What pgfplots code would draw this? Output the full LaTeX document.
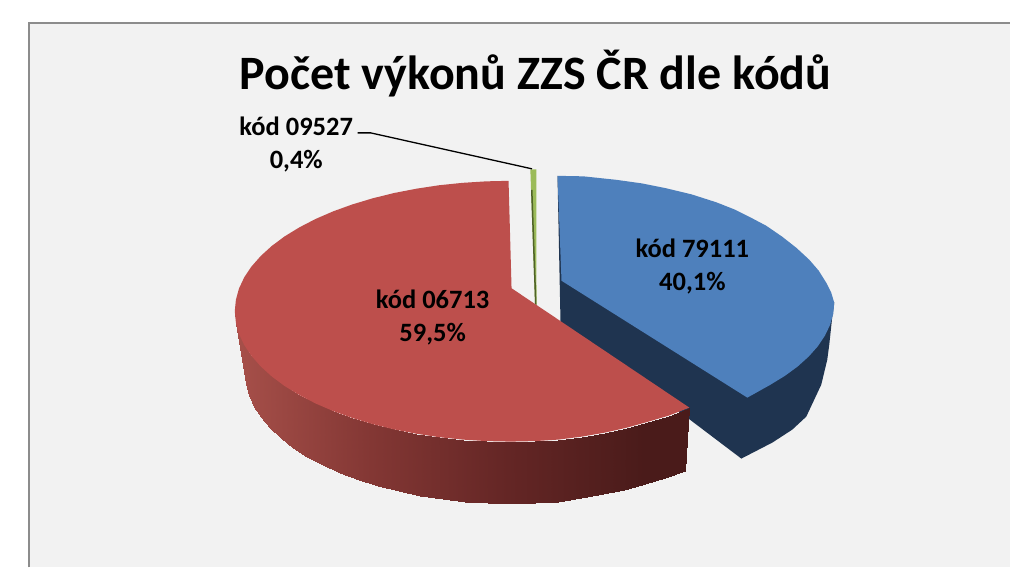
\documentclass[border=0pt]{standalone}
\usepackage{fontspec}
\setmainfont{Carlito}
\usepackage{pgfplots}
\pgfplotsset{compat=1.18}
\definecolor{panel}{HTML}{F2F2F2}
\definecolor{edge}{HTML}{8C8C8C}
\definecolor{redtop}{HTML}{BD4F4C}
\definecolor{bluetop}{HTML}{4E80BC}
\definecolor{blueside}{HTML}{1F3450}
\definecolor{greentop}{HTML}{9BBB59}
\definecolor{greenside}{HTML}{4F6228}

\begin{document}
\begin{tikzpicture}
\begin{axis}[
  width=1011pt, height=568pt,
  scale only axis,
  xmin=0, xmax=1011, ymin=0, ymax=568,
  y dir=reverse,
  hide axis,
  clip=false,
  colormap={redside}{rgb255(0cm)=(167,80,74); rgb255(3cm)=(131,55,52); rgb255(6cm)=(100,38,37); rgb255(9cm)=(74,27,26); rgb255(10cm)=(74,27,26)},
  point meta min=235, point meta max=690,
]
% page and panel
\addplot[fill=white, draw=none] coordinates {(0,0)(1011,0)(1011,568)(0,568)} -- cycle;
\addplot[fill=panel, draw=none] coordinates {(29,23)(1011,23)(1011,568)(29,568)} -- cycle;
\addplot[edge, line width=1.8pt] coordinates {(29,568)(29,23)(1011,23)};

% blue slice, 40,1 %
\addplot[fill=blueside, draw=none] coordinates {
  (558,176)(561,322)(742,459)(773,443)(793,430)(807,417)(822,385)(828,360)(830,345)(833,317)(835,303)
} -- cycle;
\addplot[fill=bluetop, draw=none] coordinates {
  (558,176)(584,176.5)(617,180)(642,183.5)(667,188.5)(692,194.5)(717,202.5)(736,210)
  (750,217)(767,226)(783,237)(797,248)(810,260)(819.5,271)(827,283)(832,293)(835,303)
  (834,314.2)(830.8,325.2)(825.6,336.1)(818.4,346.8)
  (809.2,357.1)(798.2,367)(785.3,376.4)(770.7,385.3)(748,398)(562,281)
} -- cycle;

% green slice, 0,4 %
\addplot[fill=greentop, draw=none] coordinates {(530.8,169.5)(536.8,169.5)(537,305)(535.5,305)} -- cycle;
\addplot[fill=greenside, draw=none] coordinates {(531.5,190)(533,190)(537,305)(535.5,305)} -- cycle;

% red slice, 59,5 %
\addplot[surf, shader=interp, mesh/rows=2, point meta=x, colormap name=redside] table {
x y
235 311.5
236.1 322.9
239.2 334.2
244.4 345.3
251.6 356.1
260.9 366.7
272 376.8
284.9 386.4
299.6 395.4
315.8 403.8
333.6 411.5
352.7 418.4
373 424.5
394.4 429.8
416.6 434.1
439.6 437.6
463.1 440
486.9 441.5
511 442
535.1 441.5
558.9 440
582.4 437
605.4 433
627.6 428
649 422
669.3 416
690 408
245 373
246 384.4
249.1 395.7
254.1 406.9
261.1 417.8
270 428.4
280.8 438.5
293.3 448.1
307.5 457.2
323.2 465.6
340.4 473.4
358.9 480.3
378.5 486.4
399.2 491.7
420.7 496.1
442.9 499.5
465.6 502
488.7 503.5
512 504
535.3 503.5
558.4 502
581.1 498.5
603.3 494.5
624.8 490
645.5 484.5
665.1 478.5
686 471
};
\addplot[fill=redtop, draw=none] coordinates {
  (509,181)(486.9,181.5)(463.1,183)(439.6,185.4)(416.6,188.9)(394.4,193.2)(373,198.5)(352.7,204.6)
  (333.6,211.5)(315.8,219.2)(299.6,227.6)(284.9,236.6)(272,246.2)(260.9,256.3)(251.6,266.9)
  (244.4,277.7)(239.2,288.8)(236.1,300.1)(235,311.5)(236.1,322.9)(239.2,334.2)(244.4,345.3)
  (251.6,356.1)(260.9,366.7)(272,376.8)(284.9,386.4)(299.6,395.4)(315.8,403.8)(333.6,411.5)
  (352.7,418.4)(373,424.5)(394.4,429.8)(416.6,434.1)(439.6,437.6)(463.1,440)(486.9,441.5)
  (511,442)(535.1,441.5)(558.9,440)(582.4,437)(605.4,433)(627.6,428)(649,422)(669.3,416)
  (690,408)(512,288.5)
} -- cycle;

% leader line
\addplot[black, line width=1.3pt] coordinates {(358,133)(371,133)(532.5,169)};

% texts
\node[font={\fontsize{48}{54}\selectfont\bfseries}, inner sep=0pt] at (axis cs:536,74) {Počet výkonů ZZS ČR dle kódů};
\tikzset{lab/.style={font={\fontsize{26.5}{33}\selectfont\bfseries}, align=center, inner sep=0pt}}
\node[lab] at (axis cs:296.5,145) {kód 09527\\0,4\%};
\node[lab] at (axis cs:693,266.5) {kód 79111\\40,1\%};
\node[lab] at (axis cs:433,317.5) {kód 06713\\59,5\%};
\end{axis}
\end{tikzpicture}
\end{document}
